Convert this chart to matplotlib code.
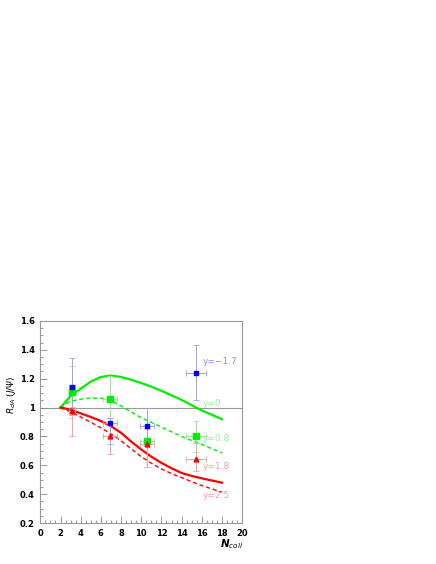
import matplotlib
matplotlib.use("Agg")
import matplotlib.pyplot as plt
import numpy as np
from matplotlib.ticker import MultipleLocator

# Data points (Ncoll, R_dA, yerr_lo, yerr_hi, xerr)
ncoll = [3.1, 6.9, 10.6, 15.4]
blue_y = [1.14, 0.89, 0.87, 1.24]
blue_lo = [0.19, 0.14, 0.12, 0.185]
blue_hi = [0.20, 0.04, 0.125, 0.19]
green_y = [1.11, 1.06, 0.77, 0.80]
green_lo = [0.18, 0.16, 0.18, 0.11]
green_hi = [0.18, 0.16, 0.10, 0.11]
red_y = [0.975, 0.80, 0.75, 0.645]
red_lo = [0.17, 0.12, 0.16, 0.085]
red_hi = [0.03, 0.13, 0.10, 0.11]
xerr = [0.3, 0.7, 0.7, 1.0]

# Model curves
cx = [2, 3, 4, 5, 6, 7, 8, 9, 10, 11, 12, 13, 14, 15, 16, 17, 18]
g_solid = [1.0, 1.08, 1.13, 1.18, 1.212, 1.222, 1.212, 1.193, 1.17, 1.145, 1.116, 1.085, 1.053, 1.017, 0.98, 0.95, 0.92]
g_dash = [1.0, 1.045, 1.058, 1.066, 1.065, 1.047, 1.012, 0.97, 0.93, 0.897, 0.865, 0.832, 0.80, 0.772, 0.745, 0.715, 0.686]
r_solid = [1.0, 0.986, 0.96, 0.935, 0.907, 0.872, 0.825, 0.765, 0.71, 0.66, 0.617, 0.58, 0.547, 0.527, 0.51, 0.495, 0.48]
r_dash = [1.0, 0.97, 0.935, 0.898, 0.86, 0.818, 0.77, 0.715, 0.66, 0.615, 0.575, 0.543, 0.515, 0.487, 0.46, 0.437, 0.414]

labels = ["y=\u22121.7", "y=0", "y=0.8", "y=1.8", "y=2.5"]
label_y = [1.32, 1.025, 0.785, 0.595, 0.39]
label_c = ["#8f8fee", "#99ee99", "#99ee99", "#f4a0a0", "#f4a0a0"]

fig = plt.figure(figsize=(4.36, 5.64), dpi=100)
ax = fig.add_axes([0.0925, 0.0725, 0.463, 0.3585])

ax.axhline(1.0, color="#999999", lw=0.8, zorder=1)

ax.plot(cx, g_solid, color="#00ee00", lw=1.6, zorder=3)
ax.plot(cx, g_dash, color="#00ee00", lw=1.0, ls=(0, (3, 2)), zorder=3)
ax.plot(cx, r_solid, color="#ff0000", lw=1.6, zorder=3)
ax.plot(cx, r_dash, color="#ff0000", lw=1.0, ls=(0, (3, 2)), zorder=3)

ekw = dict(elinewidth=0.7, capsize=2.0, capthick=0.6, ls="none", zorder=4)
ax.errorbar(ncoll, green_y, yerr=[green_lo, green_hi], xerr=xerr, fmt="s", ms=4.5,
            color="#00ee00", ecolor="#99e699", mec="#00ee00", **ekw)
ax.errorbar(ncoll, red_y, yerr=[red_lo, red_hi], xerr=xerr, fmt="^", ms=3.5,
            color="#ff0000", ecolor="#f5a0a0", mec="#ff0000", **ekw)
ax.errorbar(ncoll, blue_y, yerr=[blue_lo, blue_hi], xerr=xerr, fmt="s", ms=3.5,
            color="#0000ff", ecolor="#a0a0f0", mec="#0000ff", **ekw)

for t, yy, c in zip(labels, label_y, label_c):
    ax.text(16.1, yy, t, color=c, fontsize=6.5, ha="left", va="center", zorder=5)

ax.set_xlim(0, 20)
ax.set_ylim(0.2, 1.6)
ax.xaxis.set_major_locator(MultipleLocator(2))
ax.xaxis.set_minor_locator(MultipleLocator(0.5))
ax.yaxis.set_minor_locator(MultipleLocator(0.05))
ax.set_yticks([0.2, 0.4, 0.6, 0.8, 1.0, 1.2, 1.4, 1.6])
ax.set_yticklabels(["0.2", "0.4", "0.6", "0.8", "1", "1.2", "1.4", "1.6"])

ax.tick_params(which="both", direction="in", color="#888888", top=False, right=False,
               labelsize=6, width=0.6)
ax.tick_params(which="major", length=5, pad=4)
ax.tick_params(which="minor", length=2.5)
for lab in ax.get_xticklabels() + ax.get_yticklabels():
    lab.set_fontweight("bold")
for s in ax.spines.values():
    s.set_color("#999999")
    s.set_linewidth(0.8)

fig.text(0.026, 0.30, r"$R_{dA}$ $(J/\Psi)$", rotation=90, fontsize=6.5,
         ha="center", va="center")
fig.text(0.532, 0.036, r"$\boldsymbol{N}_{\mathit{coll}}$", fontsize=7.5, ha="center", va="center")

fig.savefig("out.png", dpi=100)
